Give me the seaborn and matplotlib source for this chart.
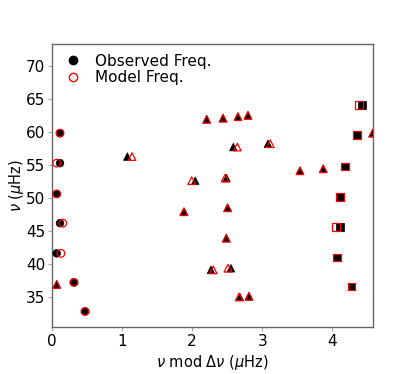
import matplotlib
matplotlib.use("Agg")
import matplotlib.pyplot as plt
from matplotlib.lines import Line2D
import seaborn as sns
import pandas as pd

# degree l: 0 -> circle, 1 -> triangle, 2 -> square
obs_l = [0, 0, 0, 0, 0, 0, 0,
         1, 1, 1, 1, 1, 1, 1, 1, 1, 1, 1, 1, 1, 1, 1, 1, 1, 1, 1, 1,
         2, 2, 2, 2, 2, 2, 2]
obs_freq = [59.8, 55.26, 50.6, 46.17, 41.6, 37.2, 32.8,
            36.9, 56.26, 47.9, 52.6, 61.9, 62.07, 53.0, 43.9, 48.5, 39.1,
            39.35, 57.7, 62.3, 35.0, 62.5, 35.1, 58.2, 54.1, 54.4, 59.8,
            64.1, 59.55, 54.74, 50.1, 45.56, 40.95, 36.56]
obs_mod = [0.114, 0.114, 0.067, 0.114, 0.067, 0.318, 0.475,
           0.067, 1.075, 1.887, 2.044, 2.207, 2.44, 2.49, 2.487, 2.506, 2.268,
           2.553, 2.587, 2.653, 2.68, 2.796, 2.81, 3.081, 3.538, 3.87, 4.575,
           4.422, 4.356, 4.18, 4.11, 4.108, 4.066, 4.275]
mod_l = obs_l
mod_freq = obs_freq
mod_mod = [0.114, 0.067, 0.067, 0.152, 0.128, 0.31, 0.47,
           0.067, 1.141, 1.880, 1.993, 2.207, 2.44, 2.47, 2.487, 2.506, 2.30,
           2.51, 2.644, 2.653, 2.67, 2.796, 2.81, 3.114, 3.538, 3.87, 4.575,
           4.384, 4.356, 4.18, 4.11, 4.051, 4.066, 4.275]

xticks = [0, 1, 2, 3, 4]
yticks = [35, 40, 45, 50, 55, 60, 65, 70]
legend_labels = ["Observed Freq.", "Model Freq."]

obs = pd.DataFrame({"x": obs_mod, "y": obs_freq, "l": obs_l})
mod = pd.DataFrame({"x": mod_mod, "y": mod_freq, "l": mod_l})

sns.set_style("white")
plt.rcParams["font.family"] = ["DejaVu Sans"]
plt.rcParams["mathtext.fontset"] = "dejavusans"
plt.rcParams["text.color"] = "black"
plt.rcParams["axes.labelcolor"] = "black"
plt.rcParams["xtick.color"] = "black"
plt.rcParams["ytick.color"] = "black"

fig = plt.figure(figsize=(4.15, 3.74), dpi=100)
ax = fig.add_axes([52 / 415, 1 - 327 / 374, (373 - 52) / 415, (327 - 44) / 374])

markers = {0: "o", 1: "^", 2: "s"}
sns.scatterplot(data=obs, x="x", y="y", style="l", markers=markers,
                color="black", edgecolor="black", linewidth=0.5, s=30,
                legend=False, ax=ax, zorder=3)
sns.scatterplot(data=mod, x="x", y="y", style="l", markers=markers,
                color="red", s=30, legend=False, ax=ax, zorder=4)
coll = ax.collections[-1]
coll.set_facecolor("none")
coll.set_edgecolor("red")
coll.set_linewidth(0.9)

ax.set_xlim(0, 4.58)
ax.set_ylim(30.45, 73.3)
ax.set_xticks(xticks)
ax.set_yticks(yticks)
ax.tick_params(axis="both", labelsize=11, length=3, width=0.8,
               color="#aaaaaa", labelcolor="black", bottom=True, left=True, pad=2)
for sp in ax.spines.values():
    sp.set_color("#666666")
    sp.set_linewidth(1.0)

ax.set_xlabel(r"$\nu$ mod $\Delta\nu$ ($\mu$Hz)", fontsize=10.5, labelpad=3)
ax.set_ylabel(r"$\nu$ ($\mu$Hz)", fontsize=10.5, labelpad=0)

handles = [
    Line2D([], [], marker="o", linestyle="none", markerfacecolor="black",
           markeredgecolor="black", markersize=6),
    Line2D([], [], marker="o", linestyle="none", markerfacecolor="none",
           markeredgecolor="red", markersize=6),
]
ax.legend(handles, legend_labels, loc="upper left",
          bbox_to_anchor=(0.024, 0.986), borderaxespad=0,
          frameon=False, fontsize=11, handlelength=1.0,
          handletextpad=0.93, borderpad=0.38, labelspacing=0.1)

fig.savefig("out.png", dpi=100)
